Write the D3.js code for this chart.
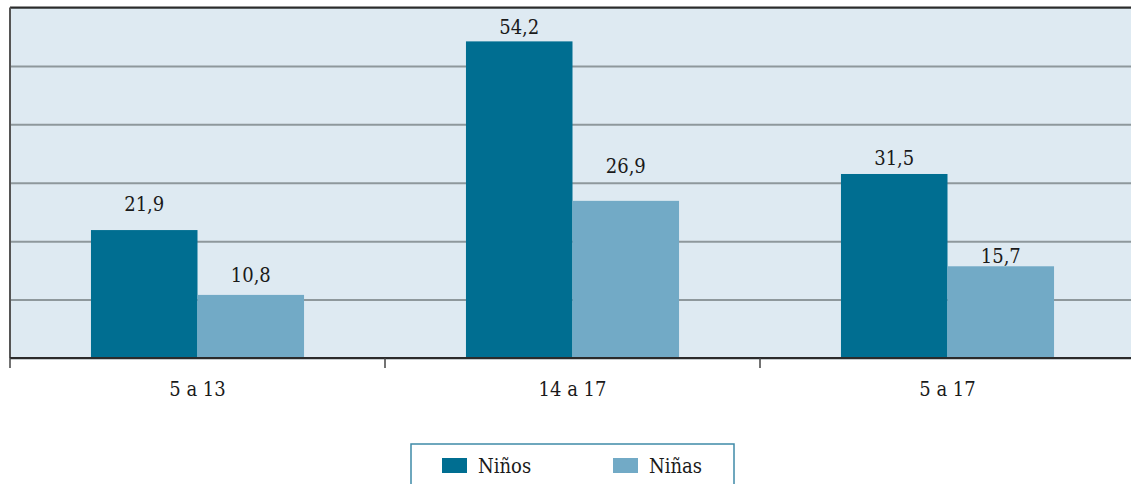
<!DOCTYPE html>
<html>
<head>
<meta charset="utf-8">
<script src="https://cdn.jsdelivr.net/npm/d3@7"></script>
<style>
  html, body { margin: 0; padding: 0; background: #ffffff; }
  svg { display: block; }
  svg text { fill: #1a1a1a; font-stretch: condensed; }
</style>
</head>
<body>
<svg id="chart" width="1131" height="484"></svg>
<script>
// Age groups and share of working children by sex (%)
const categories = ["5 a 13", "14 a 17", "5 a 17"];
const series = ["Niños", "Niñas"];
const ninos = [21.9, 54.2, 31.5];
const ninas = [10.8, 26.9, 15.7];
const yTicks = [0, 10, 20, 30, 40, 50, 60];
const colors = ["#006e91", "#72aac6"];

const values = [ninos, ninas];
const fmt = v => String(v).replace(".", ",");
const serif = "'DejaVu Serif Condensed', 'DejaVu Serif', serif";

const svg = d3.select("#chart");
const plotLeft = 10, plotRight = 1135, plotTop = 7.5, plotBottom = 358;

const x0 = d3.scaleBand().domain(categories).range([plotLeft, plotRight]).padding(0);
const x1 = d3.scaleBand().domain(series).range([0, x0.bandwidth()])
  .paddingInner(0).paddingOuter(0.76);
const y = d3.scaleLinear().domain([0, 60]).range([plotBottom, plotTop]);

// plot background
svg.append("rect")
  .attr("x", plotLeft).attr("y", plotTop)
  .attr("width", plotRight - plotLeft).attr("height", plotBottom - plotTop)
  .attr("fill", "#deeaf2");

// horizontal gridlines
svg.append("g")
  .attr("transform", `translate(${plotLeft},0)`)
  .call(d3.axisLeft(y).tickValues(yTicks).tickSize(-(plotRight - plotLeft)).tickFormat(""))
  .call(g => g.select(".domain").remove())
  .call(g => g.selectAll(".tick line").attr("stroke", "#8e989c").attr("stroke-width", 2));

// top border
svg.append("line")
  .attr("x1", plotLeft).attr("x2", plotRight).attr("y1", plotTop).attr("y2", plotTop)
  .attr("stroke", "#2b2b2b").attr("stroke-width", 1.8);

// bars
const groups = svg.append("g").selectAll("g")
  .data(categories)
  .join("g")
  .attr("transform", d => `translate(${x0(d)},0)`);

groups.selectAll("rect")
  .data((d, i) => series.map((s, j) => ({ s, v: values[j][i], j })))
  .join("rect")
  .attr("x", d => x1(d.s))
  .attr("y", d => y(d.v))
  .attr("width", x1.bandwidth())
  .attr("height", d => y(0) - y(d.v))
  .attr("fill", d => colors[d.j]);

// value labels, each lifted by its own hand-set gap above the bar
const labelLift = [[19, 13], [7, 28], [9, 3]];
groups.selectAll("text.val")
  .data((d, i) => series.map((s, j) => ({ s, v: values[j][i], lift: labelLift[i][j] })))
  .join("text")
  .attr("class", "val")
  .attr("x", d => x1(d.s) + x1.bandwidth() / 2)
  .attr("y", d => y(d.v) - d.lift)
  .attr("text-anchor", "middle")
  .attr("font-size", 20)
  .attr("font-family", serif)
  .text(d => fmt(d.v));

// left axis line
svg.append("line")
  .attr("x1", plotLeft).attr("x2", plotLeft).attr("y1", plotTop).attr("y2", plotBottom)
  .attr("stroke", "#555").attr("stroke-width", 2);

// bottom axis with category separators
const xAxis = svg.append("g").attr("transform", `translate(0,${plotBottom})`);
xAxis.call(d3.axisBottom(x0).tickSize(0).tickPadding(24))
  .attr("font-family", serif)
  .call(g => g.select(".domain").attr("stroke", "#2b2b2b").attr("stroke-width", 1.8)
    .attr("d", `M${plotLeft},0H${plotRight}`))
  .call(g => g.selectAll(".tick text").attr("font-size", 20)
    .attr("font-family", serif).attr("fill", "#1a1a1a"));
xAxis.selectAll("line.sep")
  .data(categories)
  .join("line")
  .attr("class", "sep")
  .attr("x1", d => x0(d)).attr("x2", d => x0(d))
  .attr("y1", 0).attr("y2", 10)
  .attr("stroke", "#444").attr("stroke-width", 1.5);

// legend
const legend = svg.append("g");
legend.append("rect")
  .attr("x", 411).attr("y", 444).attr("width", 323).attr("height", 60)
  .attr("fill", "#ffffff").attr("stroke", "#3f8aa8").attr("stroke-width", 1.5);
const legendX = [442, 613];
series.forEach((s, i) => {
  legend.append("rect")
    .attr("x", legendX[i]).attr("y", 458).attr("width", 25).attr("height", 15)
    .attr("fill", colors[i]);
  legend.append("text")
    .attr("x", legendX[i] + 36).attr("y", 473)
    .attr("font-size", 20)
    .attr("font-family", serif)
    .text(s);
});
</script>
</body>
</html>
